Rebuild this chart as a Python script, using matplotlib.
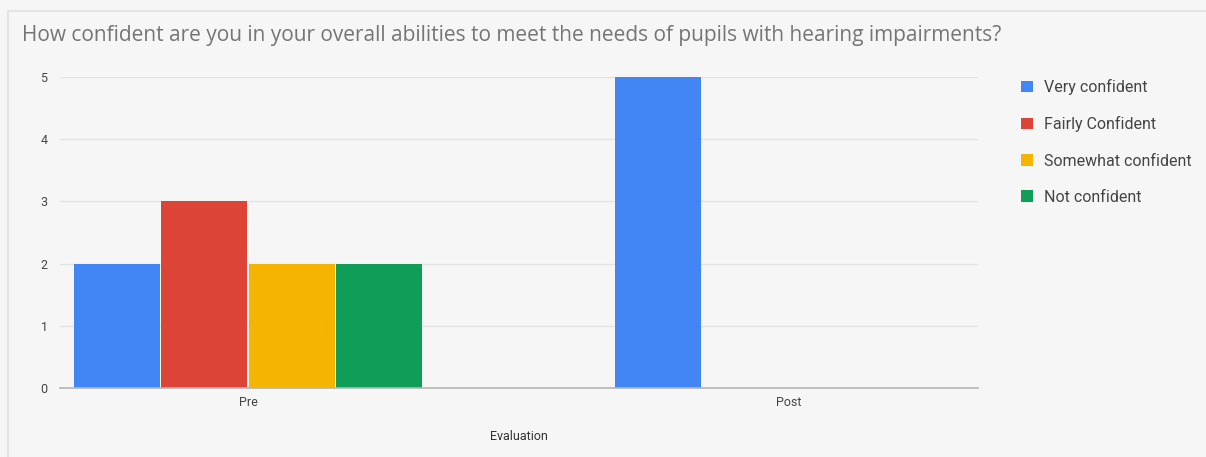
import numpy as np
import matplotlib
matplotlib.use('Agg')
import matplotlib.pyplot as plt
from matplotlib.patches import Rectangle

# data
categories = ['Pre', 'Post']
series = ['Very confident', 'Fairly Confident', 'Somewhat confident', 'Not confident']
values = [
    [2, 5],  # Very confident
    [3, 0],  # Fairly Confident
    [2, 0],  # Somewhat confident
    [2, 0],  # Not confident
]
colors = ['#4285F4', '#DB4437', '#F4B400', '#0F9D58']

plt.rcParams['font.family'] = ['Roboto', 'DejaVu Sans']

fig = plt.figure(figsize=(12.06, 4.57), dpi=100, facecolor='#f6f6f6')
# card outline
fig.patches.append(Rectangle((8 / 1206, -0.05), 1.1, 1 - 11 / 457 + 0.05,
                             transform=fig.transFigure, facecolor='none',
                             edgecolor='#e4e4e4', lw=1.5))

ax = fig.add_axes([60 / 1206, 1 - 388 / 457, (978 - 60) / 1206, (388 - 77) / 457])
ax.set_facecolor('#f6f6f6')

x = np.arange(len(categories))
slot = 0.1618
for i, (name, vals) in enumerate(zip(series, values)):
    offs = (i - 1.5) * slot
    ax.bar(x + offs, vals, width=slot - 0.003, color=colors[i], label=name,
           linewidth=0, zorder=2)

ax.set_xlim(-0.3475, 1.349)
ax.set_ylim(0, 5)
ax.set_yticks(range(0, 6))
ax.set_xticks(x)
ax.set_xticklabels(categories)
ax.grid(axis='y', color='#e3e3e3', lw=1, zorder=0)
for s in ['top', 'right', 'left']:
    ax.spines[s].set_visible(False)
ax.spines['bottom'].set_color('#b5b5b5')
ax.spines['bottom'].set_linewidth(1.2)
ax.spines['bottom'].set_zorder(3)
ax.tick_params(axis='both', length=0, labelsize=9, colors='#444444', pad=6)
ax.tick_params(axis='y', pad=9)
ax.set_xlabel('Evaluation', fontsize=9, color='#333333', labelpad=15)

fig.text(22 / 1206, 1 - 35 / 457,
         'How confident are you in your overall abilities to meet the needs of pupils with hearing impairments?',
         fontsize=15, color='#757575', family=['Open Sans', 'DejaVu Sans'], va='center')

leg = fig.legend(loc='upper left', bbox_to_anchor=(1007 / 1206, 1 - 65 / 457),
                 frameon=False, fontsize=11.5, labelcolor='#444444',
                 handlelength=0.7, handleheight=0.7, handletextpad=0.7,
                 labelspacing=1.32)

fig.savefig('out.png', dpi=100, facecolor=fig.get_facecolor())
